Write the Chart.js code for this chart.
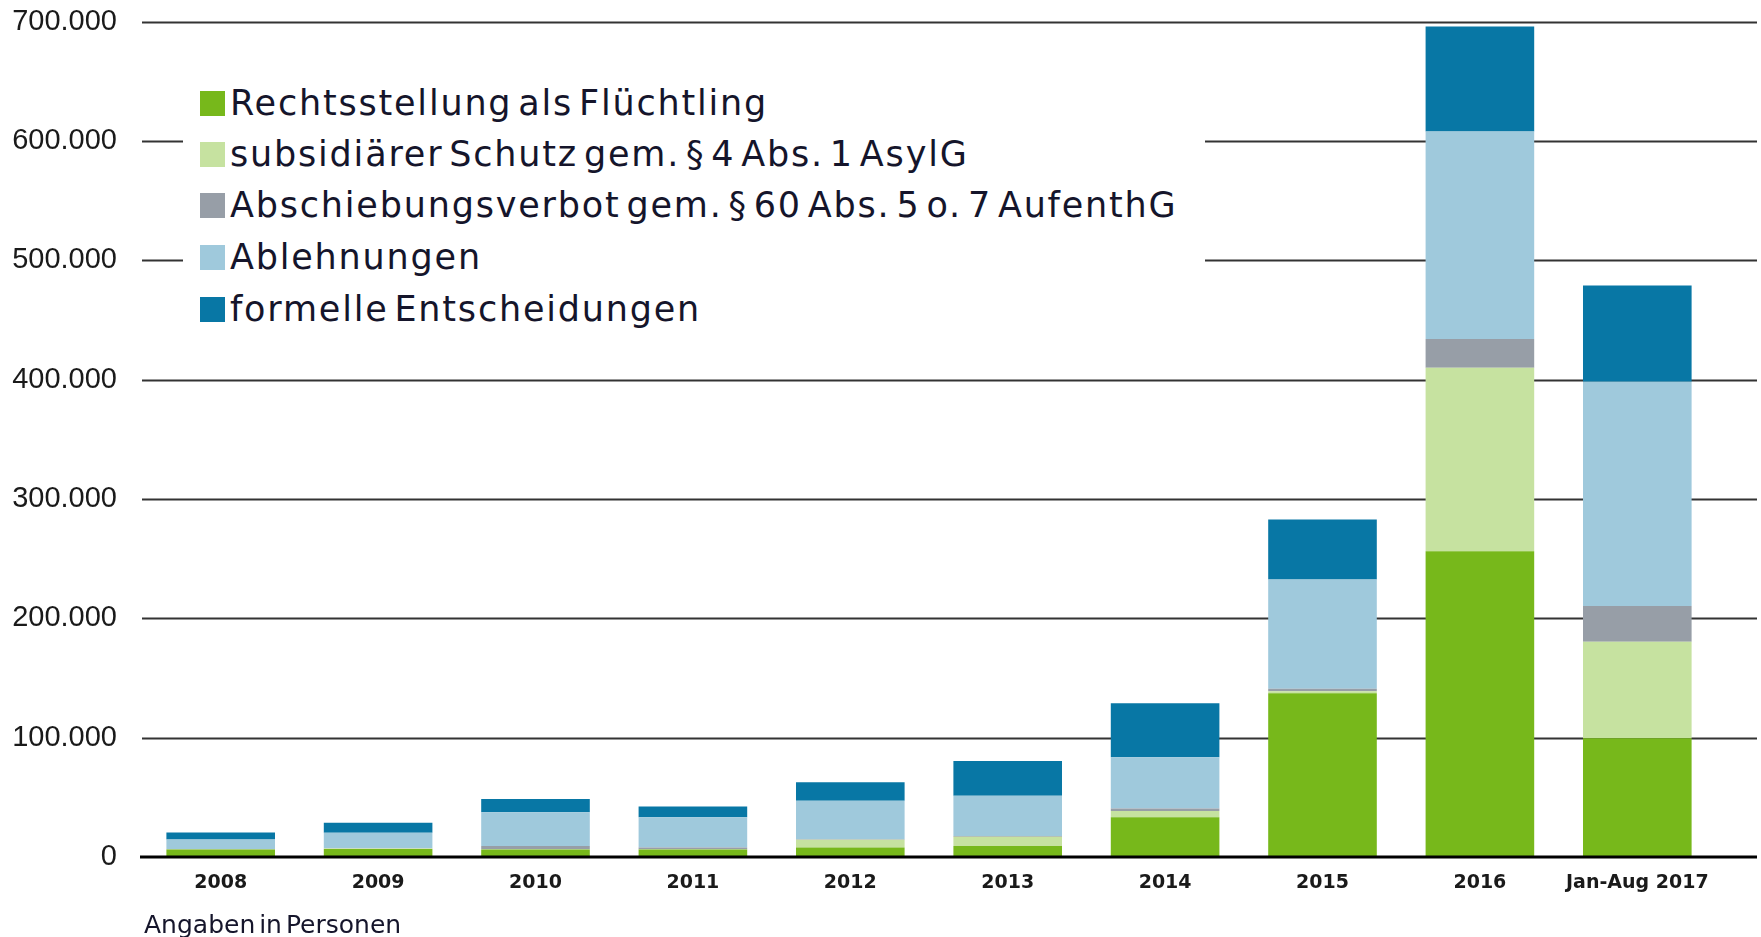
<!DOCTYPE html>
<html>
<head>
<meta charset="utf-8">
<script src="https://cdn.jsdelivr.net/npm/chart.js@4.4.0/dist/chart.umd.min.js"></script>
<style>
    body { margin: 0; background: #fff; }
    #wrap { position: relative; width: 1761px; height: 937px; }
    #legend { position: absolute; left: 183px; top: 64px; width: 1022px; height: 284px; background: #fff; }
    .sw { position: absolute; left: 17px; width: 25px; height: 25px; }
    .txt { position: absolute; left: 47px; font-family: 'DejaVu Sans'; font-size: 35px; line-height: 35px;
           letter-spacing: 1.8px; word-spacing: -7px; color: #15152b; white-space: nowrap; }
    #note { position: absolute; left: 144px; top: 912px; font-family: 'DejaVu Sans'; font-size: 25px;
            line-height: 25px; word-spacing: -4px; color: #15152b; white-space: nowrap; }
</style>
</head>
<body>
<div id="wrap">
    <canvas id="asylChart"></canvas>
    <div id="legend"></div>
    <div id="note">Angaben in Personen</div>
</div>
<script>
// Entscheidungen über Asylanträge, Angaben in Personen
const years = ['2008', '2009', '2010', '2011', '2012', '2013', '2014', '2015', '2016', 'Jan-Aug 2017'];

const fluechtling        = [6200, 6600, 6200, 6200, 7900, 9300, 33310, 137136, 256136, 99500];
const subsidiaer         = [200, 600, 300, 300, 6600, 7700, 5174, 1707, 153700, 80800];
const abschiebungsverbot = [300, 200, 2800, 1400, 400, 500, 2079, 2072, 24084, 30000];
const ablehnungen        = [8000, 12900, 28200, 25400, 32200, 33800, 43018, 91514, 173846, 187800];
const formelle           = [5900, 8500, 11000, 9000, 15500, 29100, 45330, 50297, 87967, 80700];

const seriesNames = [
    'Rechtsstellung als Flüchtling',
    'subsidiärer Schutz gem. § 4 Abs. 1 AsylG',
    'Abschiebungsverbot gem. § 60 Abs. 5 o. 7 AufenthG',
    'Ablehnungen',
    'formelle Entscheidungen'
];
const seriesValues = [fluechtling, subsidiaer, abschiebungsverbot, ablehnungen, formelle];
const seriesColors = ['#77b81b', '#c6e2a0', '#979ea7', '#9fc9dc', '#0877a5'];

const yMax = 700000;
const yStep = 100000;

// gridlines run past the last bar to the right edge
const longGrid = {
    id: 'longGrid',
    beforeDatasetsDraw(chart) {
        const { ctx, chartArea, scales: { y } } = chart;
        ctx.save();
        y.ticks.forEach(t => {
            if (t.value === 0) return;
            const py = Math.round(y.getPixelForValue(t.value)) + 0.5;
            ctx.beginPath();
            ctx.lineWidth = 2;
            ctx.strokeStyle = '#333333';
            ctx.moveTo(chartArea.left, py);
            ctx.lineTo(chart.width - 4, py);
            ctx.stroke();
        });
        ctx.restore();
    },
    afterDatasetsDraw(chart) {
        const { ctx, chartArea, scales: { y } } = chart;
        const py = y.getPixelForValue(0);
        ctx.save();
        ctx.beginPath();
        ctx.lineWidth = 3;
        ctx.strokeStyle = '#000';
        ctx.moveTo(chartArea.left - 2, py);
        ctx.lineTo(chart.width - 4, py);
        ctx.stroke();
        ctx.restore();
    }
};

const datasets = seriesNames.map((name, i) => ({
    label: name,
    data: seriesValues[i],
    backgroundColor: seriesColors[i],
    borderWidth: 0,
    barPercentage: 0.69,
    categoryPercentage: 1.0
}));

const ctx = document.getElementById('asylChart').getContext('2d');
const asylChart = new Chart(ctx, {
    type: 'bar',
    data: { labels: years, datasets: datasets },
    options: {
        responsive: true,
        maintainAspectRatio: false,
        animation: false,
        layout: { padding: { top: 21.5, right: 45, bottom: 0, left: 0 } },
        plugins: {
            legend: { display: false },
            tooltip: { enabled: false }
        },
        scales: {
            x: {
                stacked: true,
                grid: { display: false, drawTicks: false },
                border: { display: false },
                ticks: {
                    padding: 15,
                    color: '#1a1a1a',
                    font: { family: 'DejaVu Sans', size: 19, weight: 'bold' }
                },
                afterFit(scale) { scale.height = 80; }
            },
            y: {
                stacked: true,
                min: 0,
                max: yMax,
                // tick marks hidden, their length only sets the label gap
                grid: { display: false, drawTicks: true, tickLength: 25 },
                border: { display: false },
                ticks: {
                    stepSize: yStep,
                    padding: 0,
                    color: '#1a1a1a',
                    font: { family: 'Liberation Sans', size: 29 },
                    callback: v => v.toLocaleString('de-DE')
                },
                afterFit(scale) { scale.width = 142; }
            }
        }
    },
    plugins: [longGrid]
});

// legend box, built from the same series
const legendEl = document.getElementById('legend');
const legendTop = 64;
const rowCenters = [103, 154, 205.5, 257, 309];
seriesNames.forEach((name, i) => {
    const sw = document.createElement('div');
    sw.className = 'sw';
    sw.style.background = seriesColors[i];
    sw.style.top = (rowCenters[i] - 12.5 - legendTop) + 'px';
    legendEl.appendChild(sw);
    const t = document.createElement('div');
    t.className = 'txt';
    t.textContent = name;
    t.style.top = (rowCenters[i] + 12.5 - 29.6 - legendTop) + 'px';
    legendEl.appendChild(t);
});
</script>
</body>
</html>
